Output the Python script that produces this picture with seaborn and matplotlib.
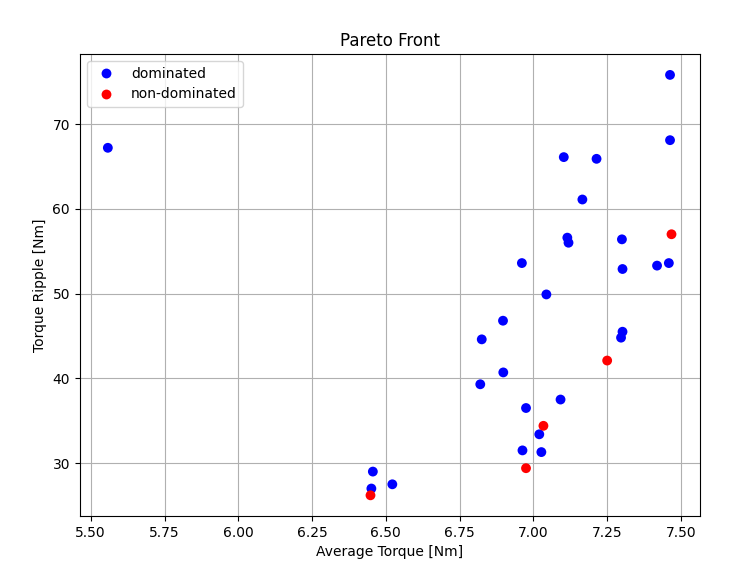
import matplotlib
matplotlib.use("Agg")
import matplotlib.pyplot as plt
import seaborn as sns
import pandas as pd

dom_x = [5.558, 7.463, 7.463, 7.103, 7.214, 7.166, 7.115, 7.119, 7.300, 6.961, 7.302, 7.419, 7.459,
         7.044, 6.897, 6.825, 7.302, 7.297, 6.820, 6.898, 7.092, 6.975, 7.020, 6.963, 7.027, 6.456, 6.451, 6.522]
dom_y = [67.2, 75.8, 68.1, 66.1, 65.9, 61.1, 56.6, 56.0, 56.4, 53.6, 52.9, 53.3, 53.6,
         49.9, 46.8, 44.6, 45.5, 44.8, 39.3, 40.7, 37.5, 36.5, 33.4, 31.5, 31.3, 29.0, 27.0, 27.5]
nd_x = [7.468, 7.250, 7.034, 6.975, 6.448]
nd_y = [57.0, 42.1, 34.4, 29.4, 26.2]

df = pd.DataFrame({
    "x": dom_x + nd_x,
    "y": dom_y + nd_y,
    "kind": ["dominated"] * len(dom_x) + ["non-dominated"] * len(nd_x),
})

fig = plt.figure(figsize=(7.39, 5.69), dpi=100)
ax = fig.add_subplot(111)
fig.subplots_adjust(left=0.108, right=0.947, top=0.905, bottom=0.093)
sns.scatterplot(data=df, x="x", y="y", hue="kind", palette={"dominated": "blue", "non-dominated": "red"},
                s=50, edgecolor="none", ax=ax, zorder=3)
ax.set_xlim(5.463, 7.564)
ax.set_ylim(23.75, 78.26)
ax.grid(True, zorder=0)
ax.set_axisbelow(True)
ax.set_title("Pareto Front")
ax.set_xlabel("Average Torque [Nm]")
ax.set_ylabel("Torque Ripple [Nm]")
ax.legend(loc="upper left", title=None)
fig.savefig("out.png", dpi=100)
